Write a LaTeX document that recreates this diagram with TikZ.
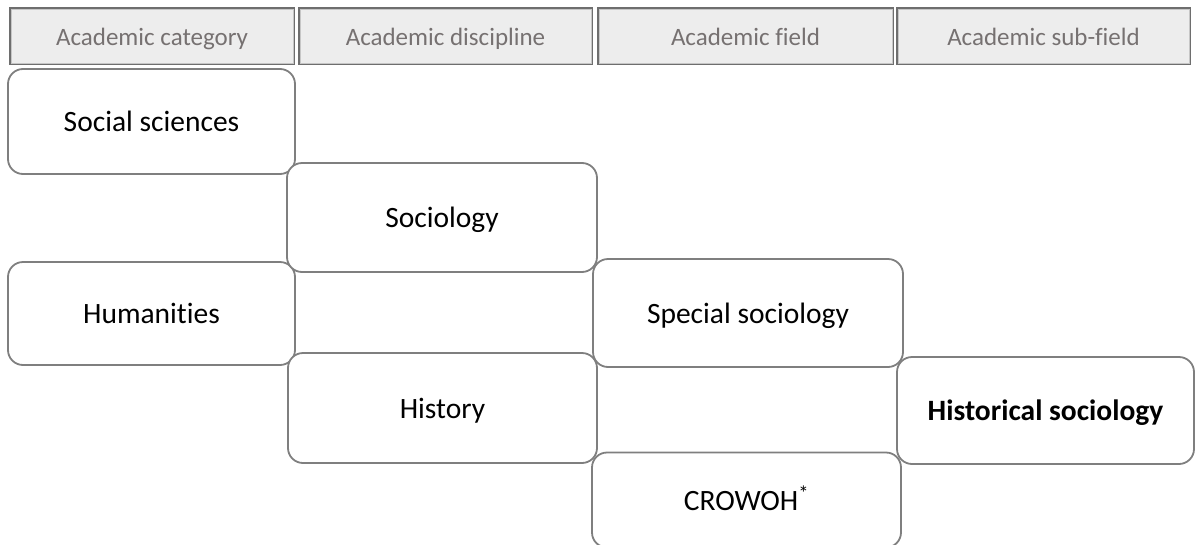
\documentclass[tikz,border=0pt]{standalone}
\usepackage{fontspec}
\setmainfont{Carlito}[Ligatures={NoCommon}]
\definecolor{boxline}{HTML}{7F7F7F}
\definecolor{hdrfill}{HTML}{EDEDED}
\definecolor{hdrline}{HTML}{6E6E6E}
\definecolor{hdrtext}{HTML}{767171}
\begin{document}
\begin{tikzpicture}[x=1pt,y=-1pt,
  hdr/.style={draw=hdrline, fill=hdrfill, line width=1.3pt, text=hdrtext,
    font=\fontsize{25}{30}\selectfont, inner sep=0pt, minimum height=56pt,
    text height=19pt, text depth=0pt},
  cat/.style={draw=boxline, fill=white, line width=1.8pt, rounded corners=15pt,
    font=\fontsize{29.5}{35}\selectfont, inner sep=0pt,
    text height=20pt, text depth=0pt}]
\useasboundingbox (0,0) rectangle (1195,544);
% header row
\node[hdr, minimum width=284pt] (h1) at (152,36) {Academic category};
\node[hdr, minimum width=293pt] (h2) at (445.5,36) {Academic discipline};
\node[hdr, minimum width=295pt] (h3) at (745.5,36) {Academic field};
\node[hdr, minimum width=293pt] (h4) at (1043.5,36) {Academic sub-field};
% inner light lines of headers
\foreach \n in {h1,h2,h3,h4}{
  \draw[color=gray!45, line width=0.8pt]
    ([xshift=1.6pt,yshift=-1.6pt]\n.north west) rectangle ([xshift=-1.6pt,yshift=1.6pt]\n.south east);
}
% boxes
\node[cat, minimum width=287pt, minimum height=105pt] (ss) at (151.5,121.5) {Social sciences};
\node[cat, minimum width=287pt, minimum height=103pt] (hum) at (151.5,313.5) {Humanities};
\node[cat, minimum width=310pt, minimum height=109pt] (soc) at (442,217.5) {Sociology};
\node[cat, minimum width=309pt, minimum height=110pt] (hist) at (442.5,408) {History};
\node[cat, minimum width=310pt, minimum height=108pt] (spec) at (748,313) {Special sociology};
\node[cat, minimum width=309pt, minimum height=95pt] (crow) at (746.5,500) {CROWOH\textsuperscript{*}};
\node[cat, minimum width=297pt, minimum height=107pt] (hsoc) at (1045.5,410.5) {\textbf{Historical sociology}};
\end{tikzpicture}
\end{document}
